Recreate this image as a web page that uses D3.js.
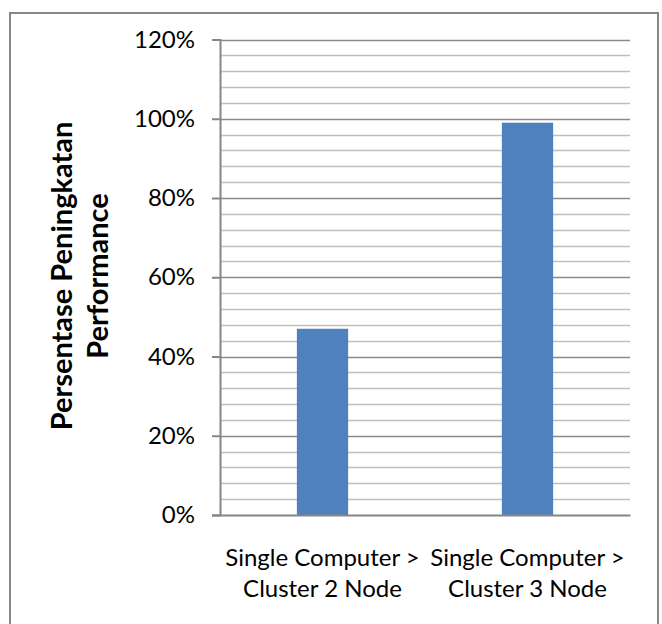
<!DOCTYPE html>
<html>
<head>
<meta charset="utf-8">
<script src="https://cdn.jsdelivr.net/npm/d3@7"></script>
<style>
  html, body { margin: 0; padding: 0; background: #ffffff; }
  svg { display: block; }
  text { font-family: Lato, "Open Sans", sans-serif; fill: #000; }
</style>
</head>
<body>
<svg id="chart" width="662" height="624"></svg>
<script>
// Performance gain of a cluster over a single computer
const categories = ["Cluster 2 Node", "Cluster 3 Node"];
const categoryPrefix = "Single Computer >";
const values = [47, 99];              // percent
const yMajorTicks = [0, 20, 40, 60, 80, 100, 120];
const yMinorTicks = d3.range(0, 121, 4).filter(v => v % 20 !== 0);
const yTitleLines = ["Persentase Peningkatan", "Performance"];

const plot = { left: 220, right: 630, top: 39.5, bottom: 515 };

const svg = d3.select("#chart");

// outer chart frame
svg.append("rect")
  .attr("x", 10).attr("y", 13)
  .attr("width", 648).attr("height", 640)
  .attr("fill", "#fff")
  .attr("stroke", "#868686")
  .attr("stroke-width", 2);

const y = d3.scaleLinear().domain([0, 120]).range([plot.bottom, plot.top]);
const x = d3.scaleBand()
  .domain(categories)
  .range([plot.left, plot.right])
  .paddingInner(0.75)
  .paddingOuter(0.375);

// minor gridlines
svg.append("g").selectAll("line")
  .data(yMinorTicks)
  .join("line")
  .attr("x1", plot.left).attr("x2", plot.right)
  .attr("y1", d => Math.round(y(d)) + 0.5).attr("y2", d => Math.round(y(d)) + 0.5)
  .attr("stroke", "#bebebe")
  .attr("stroke-width", 1.5);

// major gridlines
svg.append("g").selectAll("line")
  .data(yMajorTicks.filter(d => d > 0))
  .join("line")
  .attr("x1", plot.left).attr("x2", plot.right)
  .attr("y1", d => Math.round(y(d)) + 0.5).attr("y2", d => Math.round(y(d)) + 0.5)
  .attr("stroke", "#8a8a8a")
  .attr("stroke-width", 1.5);

// bars
svg.append("g").selectAll("rect")
  .data(values)
  .join("rect")
  .attr("x", (d, i) => x(categories[i]))
  .attr("width", x.bandwidth())
  .attr("y", d => y(d))
  .attr("height", d => y(0) - y(d))
  .attr("fill", "#4f81bd");

// y axis
const yAxis = d3.axisLeft(y)
  .tickValues(yMajorTicks)
  .tickFormat(d => d + "%")
  .tickSize(8)
  .tickPadding(17);
const gy = svg.append("g")
  .attr("transform", `translate(${plot.left},0)`)
  .call(yAxis);
gy.select(".domain").attr("stroke", "#868686").attr("stroke-width", 2);
gy.selectAll(".tick line").attr("stroke", "#868686").attr("stroke-width", 2);
gy.selectAll(".tick text")
  .attr("font-size", 24)
  .attr("font-family", "Lato, sans-serif")
  .attr("fill", "#000");

// x axis baseline
const xAxis = d3.axisBottom(x).tickSize(0).tickFormat("");
const gx = svg.append("g")
  .attr("transform", `translate(0,${plot.bottom})`)
  .call(xAxis);
gx.select(".domain").attr("stroke", "#868686").attr("stroke-width", 2);

// category labels (two lines each)
const catLabels = svg.append("g").selectAll("text")
  .data(categories)
  .join("text")
  .attr("text-anchor", "middle")
  .attr("font-size", 24);
catLabels.append("tspan")
  .attr("x", d => x(d) + x.bandwidth() / 2)
  .attr("y", 566)
  .text(categoryPrefix);
catLabels.append("tspan")
  .attr("x", d => x(d) + x.bandwidth() / 2)
  .attr("y", 597)
  .text(d => d);

// y axis title
const yTitle = svg.append("text")
  .attr("transform", "translate(0,276) rotate(-90)")
  .attr("text-anchor", "middle")
  .attr("font-size", 29)
  .attr("font-weight", "bold");
yTitle.selectAll("tspan")
  .data(yTitleLines)
  .join("tspan")
  .attr("x", 0)
  .attr("y", (d, i) => 72 + i * 36)
  .text(d => d);
</script>
</body>
</html>
